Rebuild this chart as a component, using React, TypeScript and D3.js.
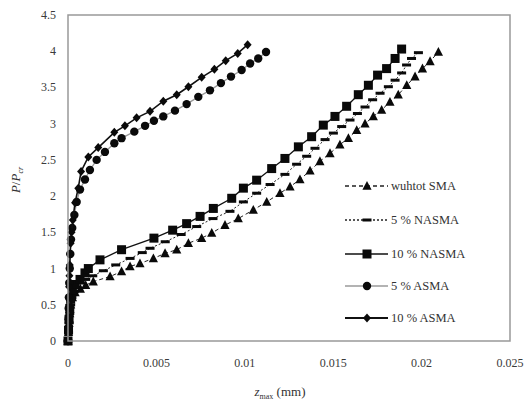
import React from "react";
import * as d3 from "d3";

const X_TICKS = [0, 0.005, 0.01, 0.015, 0.02, 0.025];
const X_TICK_LABELS = ["0", "0.005", "0.01", "0.015", "0.02", "0.025"];
const Y_TICKS = [0, 0.5, 1, 1.5, 2, 2.5, 3, 3.5, 4, 4.5];
const Y_TICK_LABELS = ["0", "0.5", "1", "1.5", "2", "2.5", "3", "3.5", "4", "4.5"];

const SERIES_NAMES = ["wuhtot SMA", "5 % NASMA", "10 % NASMA", "5 % ASMA", "10 % ASMA"];

const WITHOUT_X = [0, 0.00003, 0.00006, 0.0001, 0.00015, 0.00025, 0.0004, 0.0007, 0.001, 0.00143, 0.00238, 0.00303, 0.00351, 0.00407, 0.00483, 0.00549, 0.00615, 0.00681, 0.00756, 0.00813, 0.00888, 0.00963, 0.01048, 0.01124, 0.01199, 0.01256, 0.01312, 0.01369, 0.01425, 0.01482, 0.01538, 0.01586, 0.01633, 0.0168, 0.01727, 0.01774, 0.01821, 0.01868, 0.01916, 0.01963, 0.02005, 0.02048, 0.02095];
const WITHOUT_Y = [0, 0.12, 0.25, 0.38, 0.5, 0.6, 0.67, 0.72, 0.77, 0.82, 0.89, 0.96, 1.03, 1.07, 1.14, 1.21, 1.26, 1.35, 1.42, 1.49, 1.6, 1.69, 1.81, 1.92, 2.04, 2.13, 2.23, 2.35, 2.48, 2.59, 2.71, 2.8, 2.91, 3.0, 3.1, 3.19, 3.3, 3.4, 3.53, 3.65, 3.76, 3.86, 3.99];

const NASMA5_X = [0, 0.00003, 0.00006, 0.0001, 0.00015, 0.00022, 0.00035, 0.0005, 0.0007, 0.001, 0.0014, 0.002, 0.0027, 0.00351, 0.0042, 0.00464, 0.0055, 0.0064, 0.00728, 0.0082, 0.00916, 0.00992, 0.01067, 0.01143, 0.01227, 0.01293, 0.0135, 0.01397, 0.01454, 0.01501, 0.01548, 0.01595, 0.01637, 0.0168, 0.01723, 0.01765, 0.01812, 0.0185, 0.01887, 0.01915, 0.01943, 0.01982];
const NASMA5_Y = [0, 0.12, 0.25, 0.38, 0.5, 0.6, 0.68, 0.74, 0.8, 0.85, 0.9, 0.97, 1.05, 1.14, 1.22, 1.28, 1.37, 1.47, 1.58, 1.69, 1.79, 1.92, 2.04, 2.16, 2.3, 2.44, 2.55, 2.66, 2.78, 2.87, 2.96, 3.05, 3.14, 3.23, 3.33, 3.42, 3.51, 3.6, 3.7, 3.81, 3.9, 3.98];

const NASMA10_X = [0, 0.00003, 0.00006, 0.0001, 0.00015, 0.00025, 0.0004, 0.00068, 0.00096, 0.00115, 0.00181, 0.00303, 0.00486, 0.00592, 0.00671, 0.00747, 0.00822, 0.00926, 0.00992, 0.01067, 0.01152, 0.01227, 0.01303, 0.01378, 0.01444, 0.0151, 0.01576, 0.01642, 0.01699, 0.01751, 0.01802, 0.0185, 0.01887];
const NASMA10_Y = [0, 0.15, 0.3, 0.45, 0.58, 0.7, 0.78, 0.85, 0.94, 1.0, 1.12, 1.26, 1.42, 1.53, 1.62, 1.72, 1.83, 1.97, 2.11, 2.22, 2.38, 2.52, 2.68, 2.82, 2.98, 3.1, 3.24, 3.4, 3.53, 3.67, 3.76, 3.9, 4.03];

const ASMA5_X = [0, 0.00002, 0.00003, 0.00004, 0.00005, 0.00007, 0.0001, 0.00013, 0.00017, 0.00024, 0.00036, 0.00049, 0.00068, 0.00096, 0.00124, 0.00162, 0.00209, 0.00262, 0.00303, 0.00375, 0.00436, 0.00486, 0.00539, 0.00605, 0.00671, 0.00737, 0.00803, 0.00865, 0.00922, 0.00982, 0.0103, 0.01076, 0.0112];
const ASMA5_Y = [0, 0.15, 0.3, 0.45, 0.6, 0.8, 1.0, 1.2, 1.4, 1.56, 1.74, 1.92, 2.09, 2.23, 2.36, 2.5, 2.61, 2.73, 2.8, 2.89, 2.97, 3.04, 3.1, 3.18, 3.27, 3.37, 3.46, 3.56, 3.65, 3.74, 3.83, 3.9, 3.99];

const ASMA10_X = [0, 0.00002, 0.00003, 0.00004, 0.00005, 0.00006, 0.00008, 0.0001, 0.00012, 0.00015, 0.0002, 0.00027, 0.0004, 0.00058, 0.00074, 0.00115, 0.00171, 0.00262, 0.00322, 0.00388, 0.00464, 0.00539, 0.00615, 0.00681, 0.00756, 0.00828, 0.00892, 0.0096, 0.01016];
const ASMA10_Y = [0, 0.2, 0.33, 0.47, 0.61, 0.75, 0.9, 1.05, 1.2, 1.35, 1.5, 1.67, 1.91, 2.11, 2.34, 2.54, 2.67, 2.88, 2.97, 3.08, 3.17, 3.31, 3.4, 3.51, 3.64, 3.75, 3.87, 3.97, 4.09];

type Marker = "triangle" | "dash" | "square" | "circle" | "diamond";
interface Style { stroke: string; width: number; dash: string; marker: Marker; }

const STYLES: Style[] = [
  { stroke: "#222", width: 1, dash: "4,3", marker: "triangle" },
  { stroke: "#222", width: 1, dash: "2,2", marker: "dash" },
  { stroke: "#111", width: 1.3, dash: "", marker: "square" },
  { stroke: "#9a9a9a", width: 1.3, dash: "", marker: "circle" },
  { stroke: "#111", width: 1.6, dash: "", marker: "diamond" },
];

const SERIES_X = [WITHOUT_X, NASMA5_X, NASMA10_X, ASMA5_X, ASMA10_X];
const SERIES_Y = [WITHOUT_Y, NASMA5_Y, NASMA10_Y, ASMA5_Y, ASMA10_Y];

function MarkerShape({ type, x, y }: { type: Marker; x: number; y: number }) {
  const c = "#0a0a0a";
  switch (type) {
    case "triangle":
      return <path d={`M${x},${y - 5}L${x + 4.6},${y + 3.8}L${x - 4.6},${y + 3.8}Z`} fill={c} />;
    case "dash":
      return <rect x={x - 4.5} y={y - 1.5} width={9} height={3} fill={c} />;
    case "square":
      return <rect x={x - 4.5} y={y - 4.5} width={9} height={9} fill={c} />;
    case "circle":
      return <circle cx={x} cy={y} r={4.2} fill={c} />;
    case "diamond":
      return <path d={`M${x},${y - 4.5}L${x + 4},${y}L${x},${y + 4.5}L${x - 4},${y}Z`} fill={c} />;
  }
}

export default function App() {
  const W = 524, H = 408;
  const x = d3.scaleLinear().domain([0, 0.025]).range([68, 510]);
  const y = d3.scaleLinear().domain([0, 4.5]).range([341, 15]);
  const line = d3.line<[number, number]>().x((d) => x(d[0])).y((d) => y(d[1]));
  const font = "'Liberation Serif', 'Times New Roman', serif";
  const legendY = [186, 220, 254, 286, 318];

  return (
    <svg width={W} height={H} style={{ position: "absolute", left: 0, top: 0, background: "#fff" }} fontFamily={font}>
      <rect x={0} y={0} width={W} height={H} fill="#fff" />
      {SERIES_X.map((xs, i) => {
        const pts = xs.map((v, j) => [v, SERIES_Y[i][j]] as [number, number]);
        const s = STYLES[i];
        return (
          <g key={i}>
            <path d={line(pts) || ""} fill="none" stroke={s.stroke} strokeWidth={s.width} strokeDasharray={s.dash} />
            {pts.map((p, j) => (
              <MarkerShape key={j} type={s.marker} x={x(p[0])} y={y(p[1])} />
            ))}
          </g>
        );
      })}
      <rect x={x(0)} y={y(4.5)} width={x(0.025) - x(0)} height={y(0) - y(4.5)} fill="none" stroke="#999" strokeWidth={1.5} />
      {X_TICKS.map((t, i) => (
        <text key={i} x={x(t)} y={367} textAnchor="middle" fontSize={12} fill="#3a3a3a">{X_TICK_LABELS[i]}</text>
      ))}
      {Y_TICKS.map((t, i) => (
        <text key={i} x={56} y={y(t) + 4} textAnchor="end" fontSize={12} fill="#3a3a3a">{Y_TICK_LABELS[i]}</text>
      ))}
      <text x={280} y={396} textAnchor="middle" fontSize={13} fill="#333">
        <tspan fontStyle="italic">z</tspan>
        <tspan fontSize={8} dy={3}>max</tspan>
        <tspan dy={-3}> (mm)</tspan>
      </text>
      <text transform="translate(20,180) rotate(-90)" textAnchor="middle" fontSize={13} fill="#333">
        <tspan fontStyle="italic">P</tspan>
        <tspan>/</tspan>
        <tspan fontStyle="italic">P</tspan>
        <tspan fontSize={8} dy={3} fontStyle="italic">cr</tspan>
      </text>
      {SERIES_NAMES.map((name, i) => {
        const s = STYLES[i];
        const ly = legendY[i];
        return (
          <g key={name}>
            <line x1={345} x2={388} y1={ly} y2={ly} stroke={s.stroke} strokeWidth={s.width + 0.3} strokeDasharray={s.dash} />
            <MarkerShape type={s.marker} x={367} y={ly} />
            <text x={391} y={ly + 4} fontSize={12.5} fill="#333">{name}</text>
          </g>
        );
      })}
    </svg>
  );
}
